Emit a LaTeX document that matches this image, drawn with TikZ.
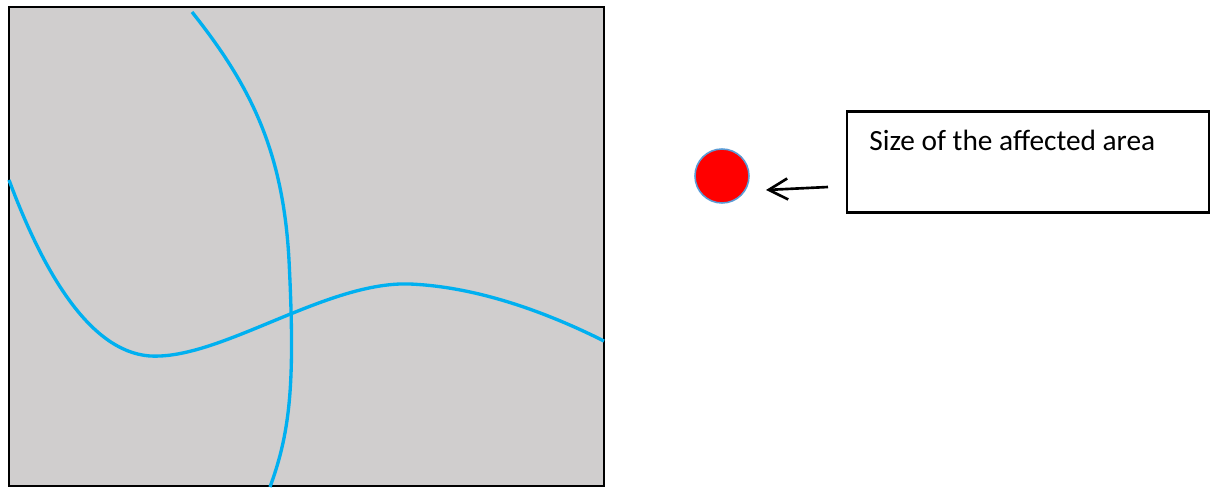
\documentclass[tikz,border=0pt]{standalone}
\usepackage{fontspec}
\setmainfont{Carlito}
\usetikzlibrary{arrows.meta}

\definecolor{grigiozona}{RGB}{208,206,206}
\definecolor{azzurrofiume}{RGB}{0,176,240}
\definecolor{bordomacchia}{RGB}{91,155,213}

\begin{document}
\begin{tikzpicture}[
  x=0.02cm, y=-0.02cm,
  font=\fontsize{16.7}{20}\selectfont,
  bordo/.style={draw=black, line width=1.3pt},
  curva/.style={draw=azzurrofiume, line width=1.9pt},
  macchia/.style={circle, fill=red, draw=bordomacchia, line width=0.9pt, inner sep=0pt, minimum size=1.08cm},
  riquadro/.style={draw=black, line width=1.2pt, minimum width=7.24cm, minimum height=2.02cm, inner sep=0pt},
  etichetta/.style={inner sep=0pt},
  freccia/.style={draw=black, line width=1.5pt, -{Straight Barb[length=0.38cm, width=0.42cm]}}
]
\useasboundingbox (0,0) rectangle (1215,488);

%--------------------------------------------------------------
% Zona grigia
%--------------------------------------------------------------
\draw[bordo, fill=grigiozona] (9,7) rectangle (604,486);

%--------------------------------------------------------------
% Curve azzurre
%--------------------------------------------------------------
\draw[curva] (192,12) .. controls (250,85) and (283,150) .. (289,260)
  .. controls (295,380) and (291,430) .. (270,487);
\draw[curva] (9,180) .. controls (50,290) and (100,360) .. (160,356)
  .. controls (230,353) and (330,281) .. (410,284)
  .. controls (480,287) and (550,314) .. (604,341);

%--------------------------------------------------------------
% Legenda: macchia rossa, freccia e riquadro
%--------------------------------------------------------------
\node[macchia] (macchia) at (722,176) {};
\node[riquadro] (riquadro) at (1028,162) {};
\node[etichetta, anchor=base west] (didascalia) at (869,150) {Size of the affected area};
\coordinate (coda) at (828,187);
\coordinate (punta) at (766,190);
\draw[freccia] (coda) -- (punta);

\end{tikzpicture}
\end{document}
